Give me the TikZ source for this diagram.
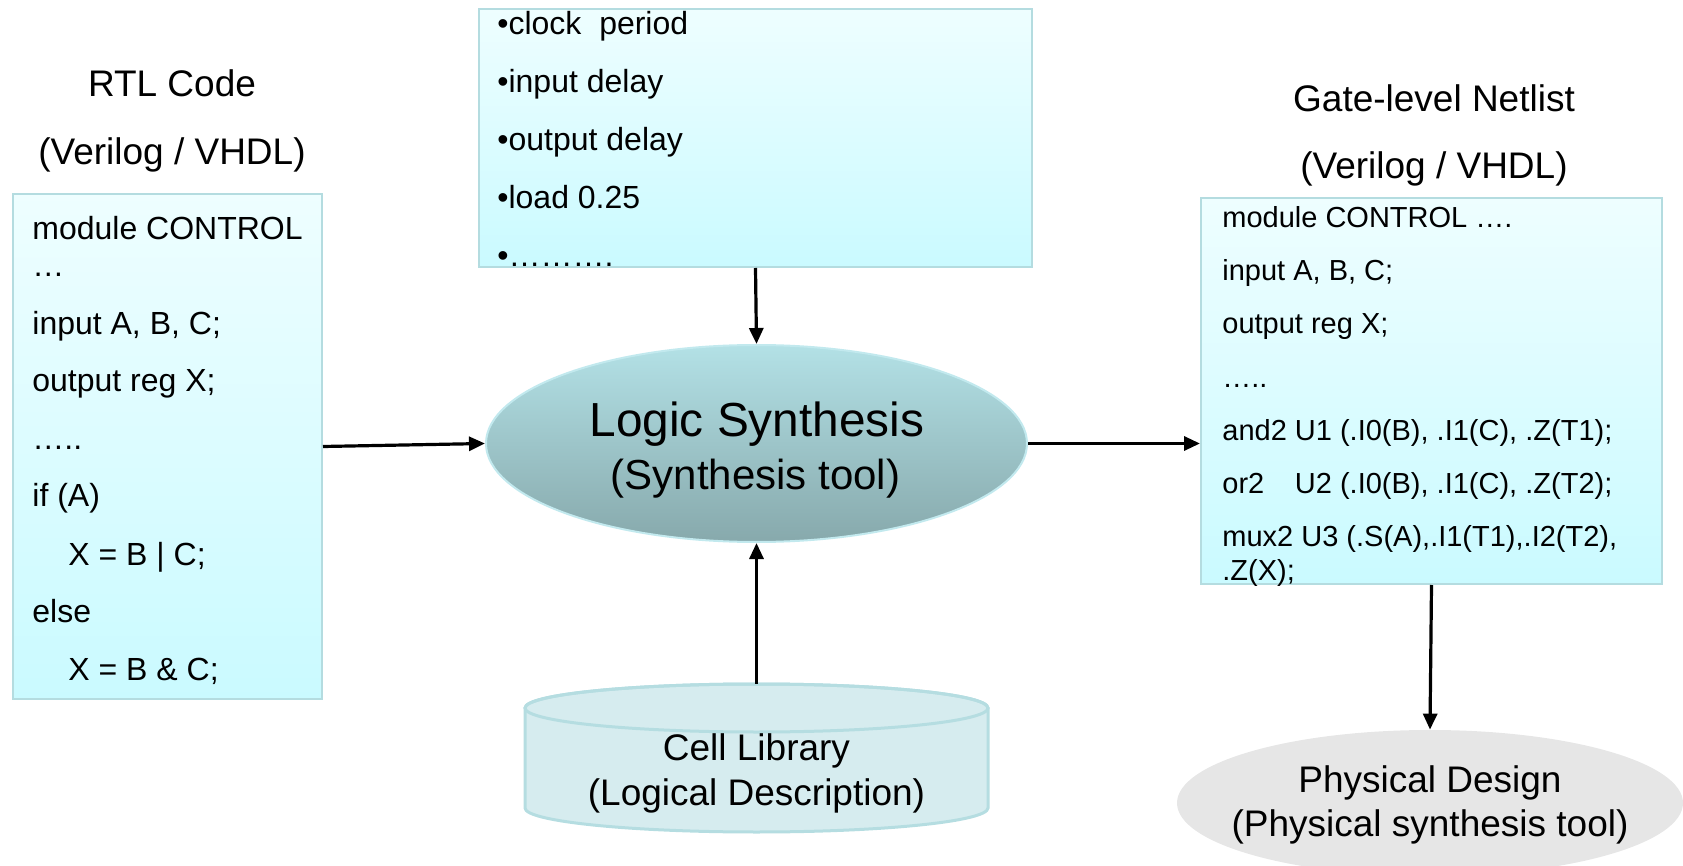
\documentclass[tikz,border=0pt]{standalone}
\usepackage{fontspec}
\setmainfont{Liberation Sans}
\usetikzlibrary{arrows.meta,shapes.geometric}

\definecolor{boxtop}{HTML}{EEFEFF}
\definecolor{boxbot}{HTML}{CAFAFF}
\definecolor{boxline}{HTML}{B4DCE0}
\definecolor{synthtop}{HTML}{B3E1E6}
\definecolor{synthbot}{HTML}{87A9AC}
\definecolor{synthline}{HTML}{C2E9EE}
\definecolor{libfill}{HTML}{D6ECEF}
\definecolor{libline}{HTML}{B5DDE1}
\definecolor{physfill}{HTML}{E6E6E6}

\tikzset{
  codebox/.style={rectangle, draw=boxline, line width=1pt, top color=boxtop, bottom color=boxbot, inner sep=0pt},
  flow/.style={line width=1.6pt, -{Triangle[length=8pt,width=7pt]}},
  heading/.style={anchor=base, inner sep=0pt, font=\fontsize{18.5}{22}\selectfont},
  codeline/.style={anchor=base west, inner sep=0pt, font=\fontsize{16}{19}\selectfont},
  netline/.style={anchor=base west, inner sep=0pt, font=\fontsize{14.5}{17}\selectfont},
}

\begin{document}
\begin{tikzpicture}[x=0.5pt,y=-0.5pt]
  \useasboundingbox (0,0) rectangle (1683,866);
  \clip (0,0) rectangle (1683,866);

  % RTL code
  \node[heading] (rtltitle) at (172,97) {RTL Code};
  \node[heading] (rtllang) at (172,165) {(Verilog / VHDL)};
  \node[codebox, minimum width=154.5pt, minimum height=252.5pt] (rtl) at (167.5,446.5) {};
  \foreach \x/\y/\txt [count=\i] in {32/240/{module CONTROL}, 32/277/{…}, 32/335/{input A, B, C;}, 32/392/{output reg X;}, 32/450/{…..}, 32/507/{if (A)}, 68/565/{X = B | C;}, 32/622/{else}, 68/680/{X = B \& C;}}
    \node[codeline] (rtl\i) at (\x,\y) {\txt};

  % constraints
  \node[codebox, minimum width=276.5pt, minimum height=129pt] (cons) at (755.5,138) {};
  \foreach \txt [count=\i] in {•clock~ period, •input delay, •output delay, •load 0.25, •……….}
    \node[codeline] (cons\i) at (497,{35+58*(\i-1)}) {\txt};

  % synthesis tool
  \node[ellipse, draw=synthline, line width=1pt, top color=synthtop, bottom color=synthbot,
        minimum width=270.5pt, minimum height=98.5pt, inner sep=0pt] (synth) at (756.5,443.5) {};
  \node[anchor=base, inner sep=0pt, font=\fontsize{23.9}{28}\selectfont] (synthname) at (757,437) {Logic Synthesis};
  \node[anchor=base, inner sep=0pt, font=\fontsize{21}{25}\selectfont] (synthtool) at (755.5,489) {(Synthesis tool)};

  % cell library
  \fill[libfill] (525,708) -- (525,808) arc[start angle=180, end angle=360, x radius=115.75pt, y radius=12pt]
    -- (988,708) arc[start angle=0, end angle=180, x radius=115.75pt, y radius=12pt] -- cycle;
  \draw[libline, line width=1.5pt] (525,708) -- (525,808) arc[start angle=180, end angle=360, x radius=115.75pt, y radius=12pt]
    -- (988,708) arc[start angle=0, end angle=180, x radius=115.75pt, y radius=12pt] -- cycle;
  \draw[libline, line width=1.5pt] (756.5,708) ellipse [x radius=115.75pt, y radius=12pt];
  \node[minimum width=231.5pt, minimum height=74pt, inner sep=0pt] (cell) at (756.5,758) {};
  \node[heading] (cellname) at (756.5,760) {Cell Library};
  \node[heading] (celldesc) at (756.5,805) {(Logical Description)};

  % gate-level netlist
  \node[heading] (nettitle) at (1434,112) {Gate-level Netlist};
  \node[heading] (netlang) at (1434,179) {(Verilog / VHDL)};
  \node[codebox, minimum width=230.5pt, minimum height=193pt] (net) at (1431.5,391) {};
  \foreach \y/\txt [count=\i] in {228/{module CONTROL ….}, 281/{input A, B, C;}, 334/{output reg X;}, 387/{…..}, 441/{and2 U1 (.I0(B), .I1(C), .Z(T1);}, 494/{\rlap{or2}\phantom{and2 }U2 (.I0(B), .I1(C), .Z(T2);}, 546/{mux2 U3 (.S(A),.I1(T1),.I2(T2),}, 580/{.Z(X);}}
    \node[netline] (net\i) at (1222,\y) {\txt};

  % physical design
  \node[ellipse, fill=physfill, minimum width=253pt, minimum height=73pt, inner sep=0pt] (phys) at (1430,803) {};
  \node[heading] (physname) at (1430,792) {Physical Design};
  \node[heading] (phystool) at (1430,836) {(Physical synthesis tool)};

  % flow
  \draw[flow] (rtl.east) -- (synth.west);
  \draw[flow] (synth.east) -- (synth.east -| net.west);
  \draw[flow] (cons.south) -- (synth.north);
  \draw[flow] (cell.north) -- (synth.south);
  \draw[flow] (net.south) -- (phys.north);
\end{tikzpicture}
\end{document}
